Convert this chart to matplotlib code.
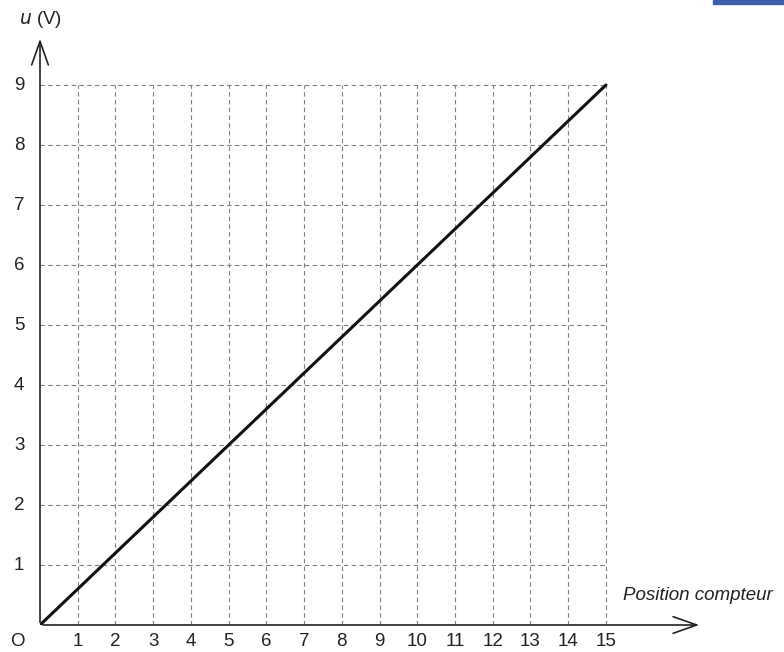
import matplotlib.pyplot as plt
from matplotlib.patches import Rectangle

# mesures : tension en fonction de la position du compteur
positions = [0, 15]
tensions = [0, 9]
x_ticks = list(range(1, 16))
y_ticks = list(range(1, 10))

plt.rcParams['font.family'] = ['Liberation Sans', 'DejaVu Sans']

fig = plt.figure(figsize=(7.84, 6.52), dpi=100)
W, H = 784, 652
x0, y0 = 40, 625      # origine en pixels
x_end, y_end = 702, 36
ax = fig.add_axes([x0 / W, 1 - y0 / H, (x_end - x0) / W, (y0 - y_end) / H])
ax.set_xlim(0, (x_end - x0) / 37.73)
ax.set_ylim(0, (y0 - y_end) / 60.0)
ax.axis('off')

# quadrillage en pointillés
grid_kw = dict(color='#808080', lw=0.8, ls=(0, (4, 3)), zorder=1)
for x in x_ticks:
    ax.plot([x, x], [0, 9], **grid_kw)
for y in y_ticks:
    ax.plot([0, 15], [y, y], **grid_kw)

# axes avec flèches ouvertes
arrow = dict(arrowstyle='->,head_length=1.7,head_width=0.6', color='#222222', lw=1.2)
xmax, ymax = ax.get_xlim()[1], ax.get_ylim()[1]
ax.annotate('', xy=(xmax, 0), xytext=(0, 0), arrowprops=arrow, annotation_clip=False)
ax.annotate('', xy=(0, ymax), xytext=(0, 0), arrowprops=arrow, annotation_clip=False)

# droite u = f(position)
ax.plot(positions, tensions, color='#111111', lw=2.2, zorder=3, solid_capstyle='round')

fs = 13.5
for x in x_ticks:
    ax.text(x, -0.27, str(x), ha='center', va='center', fontsize=fs, color='#222222')
for y in y_ticks:
    ax.text(-0.55, y, str(y), ha='center', va='center', fontsize=fs, color='#222222')
ax.text(-0.6, -0.27, 'O', ha='center', va='center', fontsize=fs, color='#222222')

ax.text(-0.55, ymax + 0.1, r'$\it{u}$ (V)', ha='left', va='bottom', fontsize=fs, color='#222222')
ax.text(15.45, 0.49, 'Position compteur', ha='left', va='center', fontsize=fs,
        style='italic', color='#222222')

# petit bandeau bleu en haut à droite
fig.patches.append(Rectangle((713 / W, 1 - 4 / H), 71 / W, 4 / H, transform=fig.transFigure,
                             color='#3b5fa8', zorder=5))

fig.savefig('out.png', dpi=100)
